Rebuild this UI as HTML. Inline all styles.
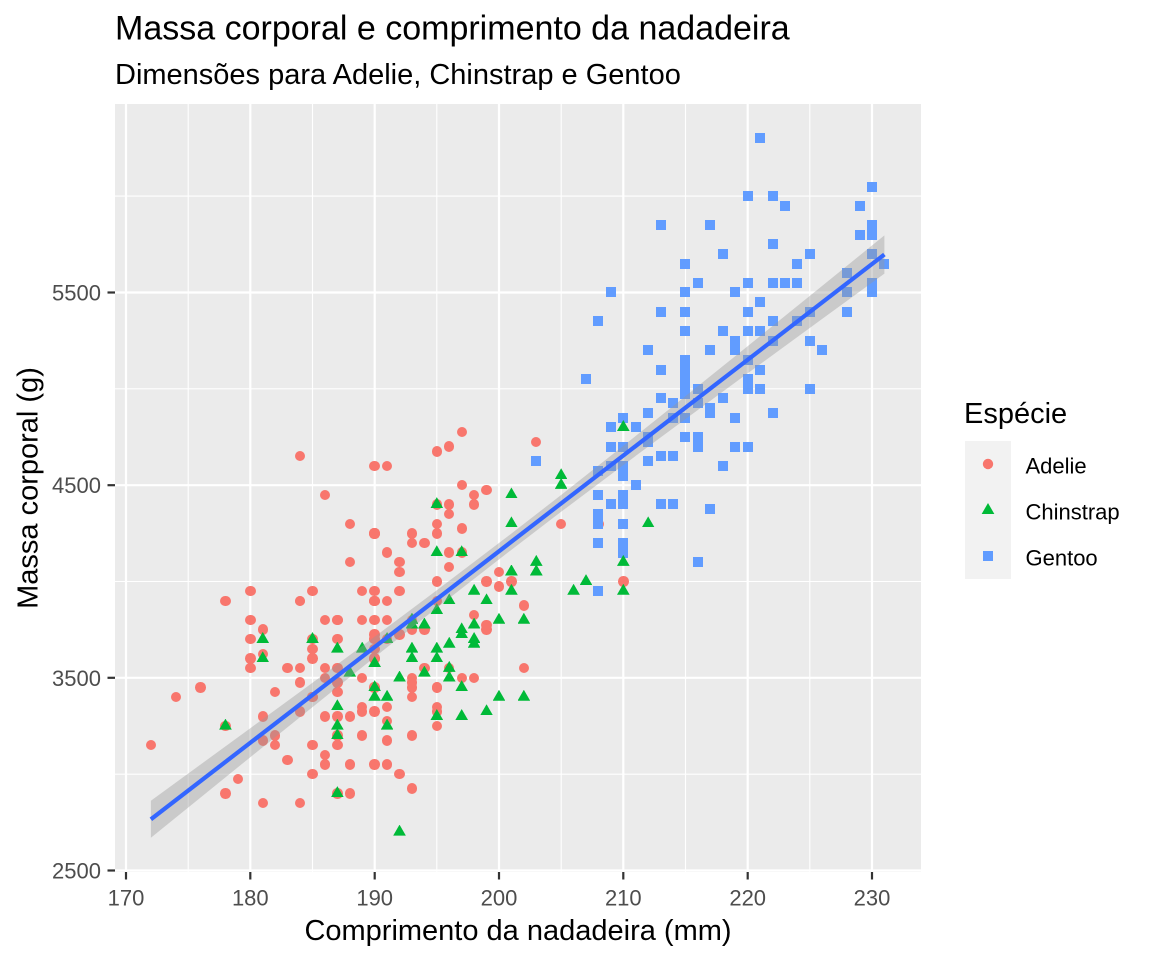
<!DOCTYPE html>
<html><head><meta charset="utf-8"><style>
html,body{margin:0;padding:0;background:#fff;}
body{width:1152px;height:960px;position:relative;overflow:hidden;font-family:"Liberation Sans",Arial,sans-serif;}
svg{position:absolute;left:0;top:0;}
.p{position:absolute;display:block;left:calc(126px + (var(--f) - 170) * 12.433px);top:calc(870.5px - (var(--m) - 2500) * 0.19267px);}
.a{width:10.4px;height:10.4px;margin:-5.2px 0 0 -5.2px;border-radius:50%;background:#F8766D;}
.g{width:10px;height:10px;margin:-5px 0 0 -5px;background:#619CFF;}
.c{width:12.7px;height:11px;margin:-7.33px 0 0 -6.35px;background:#00BA38;clip-path:polygon(50% 0,100% 100%,0 100%);}
</style></head><body>
<svg width="1152" height="960" xmlns="http://www.w3.org/2000/svg" font-family="Liberation Sans, Arial, sans-serif">
<rect x="115" y="104" width="806" height="768" fill="#EBEBEB"/>
<g stroke="#fff" stroke-width="1.1">
<line x1="188.2" y1="104" x2="188.2" y2="872"/><line x1="312.5" y1="104" x2="312.5" y2="872"/><line x1="436.8" y1="104" x2="436.8" y2="872"/><line x1="561.2" y1="104" x2="561.2" y2="872"/><line x1="685.5" y1="104" x2="685.5" y2="872"/><line x1="809.8" y1="104" x2="809.8" y2="872"/>
<line x1="115" y1="774.2" x2="921" y2="774.2"/><line x1="115" y1="581.5" x2="921" y2="581.5"/><line x1="115" y1="388.8" x2="921" y2="388.8"/><line x1="115" y1="196.1" x2="921" y2="196.1"/>
</g>
<g stroke="#fff" stroke-width="2.2">
<line x1="126" y1="104" x2="126" y2="872"/><line x1="250.3" y1="104" x2="250.3" y2="872"/><line x1="374.7" y1="104" x2="374.7" y2="872"/><line x1="499" y1="104" x2="499" y2="872"/><line x1="623.3" y1="104" x2="623.3" y2="872"/><line x1="747.7" y1="104" x2="747.7" y2="872"/><line x1="872" y1="104" x2="872" y2="872"/>
<line x1="115" y1="870.5" x2="921" y2="870.5"/><line x1="115" y1="677.8" x2="921" y2="677.8"/><line x1="115" y1="485.2" x2="921" y2="485.2"/><line x1="115" y1="292.5" x2="921" y2="292.5"/>
</g>
<g stroke="#333" stroke-width="2.2">
<line x1="107.5" y1="870.5" x2="115" y2="870.5"/><line x1="107.5" y1="677.8" x2="115" y2="677.8"/><line x1="107.5" y1="485.2" x2="115" y2="485.2"/><line x1="107.5" y1="292.5" x2="115" y2="292.5"/>
<line x1="126" y1="872" x2="126" y2="879.5"/><line x1="250.3" y1="872" x2="250.3" y2="879.5"/><line x1="374.7" y1="872" x2="374.7" y2="879.5"/><line x1="499" y1="872" x2="499" y2="879.5"/><line x1="623.3" y1="872" x2="623.3" y2="879.5"/><line x1="747.7" y1="872" x2="747.7" y2="879.5"/><line x1="872" y1="872" x2="872" y2="879.5"/>
</g>
<g font-size="22" fill="#4D4D4D" text-anchor="end">
<text x="101" y="878.5">2500</text><text x="101" y="685.8">3500</text><text x="101" y="493.2">4500</text><text x="101" y="300.5">5500</text>
</g>
<g font-size="22" fill="#4D4D4D" text-anchor="middle">
<text x="126" y="905.5">170</text><text x="250.3" y="905.5">180</text><text x="374.7" y="905.5">190</text><text x="499" y="905.5">200</text><text x="623.3" y="905.5">210</text><text x="747.7" y="905.5">220</text><text x="872" y="905.5">230</text>
</g>
<text x="115" y="39.5" font-size="34" fill="#000">Massa corporal e comprimento da nadadeira</text>
<text x="115" y="84" font-size="29" fill="#000">Dimensões para Adelie, Chinstrap e Gentoo</text>
<text x="518" y="940" font-size="29" fill="#000" text-anchor="middle">Comprimento da nadadeira (mm)</text>
<text transform="translate(37.5,488) rotate(-90)" font-size="29" fill="#000" text-anchor="middle">Massa corporal (g)</text>
<text x="964" y="423" font-size="29" fill="#000">Espécie</text>
<rect x="965" y="441" width="46" height="138" fill="#F2F2F2"/>
<circle cx="988" cy="464" r="5.2" fill="#F8766D"/>
<polygon points="988,503 994.35,514 981.65,514" fill="#00BA38"/>
<rect x="983" y="551" width="10" height="10" fill="#619CFF"/>
<g font-size="22" fill="#000">
<text x="1025.5" y="473.5">Adelie</text><text x="1025.5" y="519.5">Chinstrap</text><text x="1025.5" y="565.5">Gentoo</text>
</g>
</svg>
<div>
<i class="p a" style="--f:181;--m:3750"></i><i class="p a" style="--f:186;--m:3800"></i><i class="p a" style="--f:195;--m:3250"></i><i class="p a" style="--f:193;--m:3450"></i><i class="p a" style="--f:190;--m:3650"></i><i class="p a" style="--f:181;--m:3625"></i><i class="p a" style="--f:195;--m:4675"></i><i class="p a" style="--f:193;--m:3475"></i><i class="p a" style="--f:190;--m:4250"></i><i class="p a" style="--f:186;--m:3300"></i><i class="p a" style="--f:180;--m:3700"></i><i class="p a" style="--f:182;--m:3200"></i><i class="p a" style="--f:191;--m:3800"></i><i class="p a" style="--f:198;--m:4400"></i><i class="p a" style="--f:185;--m:3700"></i><i class="p a" style="--f:195;--m:3450"></i><i class="p a" style="--f:197;--m:4500"></i><i class="p a" style="--f:184;--m:3325"></i><i class="p a" style="--f:194;--m:4200"></i>
<i class="p a" style="--f:174;--m:3400"></i><i class="p a" style="--f:180;--m:3600"></i><i class="p a" style="--f:189;--m:3800"></i><i class="p a" style="--f:185;--m:3950"></i><i class="p a" style="--f:180;--m:3800"></i><i class="p a" style="--f:187;--m:3800"></i><i class="p a" style="--f:183;--m:3550"></i><i class="p a" style="--f:187;--m:3200"></i><i class="p a" style="--f:172;--m:3150"></i><i class="p a" style="--f:180;--m:3950"></i>
<i class="p a" style="--f:178;--m:3250"></i><i class="p a" style="--f:178;--m:3900"></i><i class="p a" style="--f:188;--m:3300"></i><i class="p a" style="--f:184;--m:3900"></i><i class="p a" style="--f:195;--m:3325"></i><i class="p a" style="--f:196;--m:4150"></i><i class="p a" style="--f:190;--m:3950"></i><i class="p a" style="--f:180;--m:3550"></i><i class="p a" style="--f:181;--m:3300"></i><i class="p a" style="--f:184;--m:4650"></i><i class="p a" style="--f:182;--m:3150"></i><i class="p a" style="--f:195;--m:3900"></i><i class="p a" style="--f:186;--m:3100"></i><i class="p a" style="--f:196;--m:4400"></i><i class="p a" style="--f:185;--m:3000"></i><i class="p a" style="--f:190;--m:4600"></i><i class="p a" style="--f:182;--m:3425"></i><i class="p a" style="--f:179;--m:2975"></i><i class="p a" style="--f:190;--m:3450"></i><i class="p a" style="--f:191;--m:4150"></i>
<i class="p a" style="--f:186;--m:3500"></i><i class="p a" style="--f:188;--m:4300"></i><i class="p a" style="--f:190;--m:3450"></i><i class="p a" style="--f:200;--m:4050"></i><i class="p a" style="--f:187;--m:2900"></i><i class="p a" style="--f:191;--m:3700"></i><i class="p a" style="--f:186;--m:3550"></i><i class="p a" style="--f:193;--m:3800"></i><i class="p a" style="--f:181;--m:2850"></i><i class="p a" style="--f:194;--m:3750"></i><i class="p a" style="--f:185;--m:3150"></i><i class="p a" style="--f:195;--m:4400"></i><i class="p a" style="--f:185;--m:3600"></i><i class="p a" style="--f:192;--m:4050"></i><i class="p a" style="--f:184;--m:2850"></i><i class="p a" style="--f:192;--m:3950"></i><i class="p a" style="--f:195;--m:3350"></i><i class="p a" style="--f:188;--m:4100"></i>
<i class="p a" style="--f:190;--m:3050"></i><i class="p a" style="--f:198;--m:4450"></i><i class="p a" style="--f:190;--m:3600"></i><i class="p a" style="--f:190;--m:3900"></i><i class="p a" style="--f:196;--m:3550"></i><i class="p a" style="--f:197;--m:4150"></i><i class="p a" style="--f:190;--m:3700"></i><i class="p a" style="--f:195;--m:4250"></i><i class="p a" style="--f:191;--m:3700"></i><i class="p a" style="--f:184;--m:3900"></i><i class="p a" style="--f:187;--m:3550"></i><i class="p a" style="--f:195;--m:4000"></i><i class="p a" style="--f:189;--m:3200"></i><i class="p a" style="--f:196;--m:4700"></i><i class="p a" style="--f:187;--m:3800"></i><i class="p a" style="--f:193;--m:4200"></i>
<i class="p a" style="--f:191;--m:3350"></i><i class="p a" style="--f:194;--m:3550"></i><i class="p a" style="--f:190;--m:3800"></i><i class="p a" style="--f:189;--m:3500"></i><i class="p a" style="--f:189;--m:3950"></i><i class="p a" style="--f:190;--m:3600"></i><i class="p a" style="--f:202;--m:3550"></i><i class="p a" style="--f:205;--m:4300"></i><i class="p a" style="--f:185;--m:3400"></i><i class="p a" style="--f:186;--m:4450"></i><i class="p a" style="--f:187;--m:3300"></i><i class="p a" style="--f:208;--m:4300"></i><i class="p a" style="--f:190;--m:3700"></i><i class="p a" style="--f:196;--m:4350"></i><i class="p a" style="--f:178;--m:2900"></i><i class="p a" style="--f:192;--m:4100"></i>
<i class="p a" style="--f:192;--m:3725"></i><i class="p a" style="--f:203;--m:4725"></i><i class="p a" style="--f:183;--m:3075"></i><i class="p a" style="--f:190;--m:4250"></i><i class="p a" style="--f:193;--m:2925"></i><i class="p a" style="--f:184;--m:3550"></i><i class="p a" style="--f:199;--m:3750"></i><i class="p a" style="--f:190;--m:3900"></i><i class="p a" style="--f:181;--m:3175"></i><i class="p a" style="--f:197;--m:4775"></i><i class="p a" style="--f:198;--m:3825"></i><i class="p a" style="--f:191;--m:4600"></i><i class="p a" style="--f:193;--m:3200"></i><i class="p a" style="--f:197;--m:4275"></i><i class="p a" style="--f:191;--m:3900"></i><i class="p a" style="--f:196;--m:4075"></i>
<i class="p a" style="--f:188;--m:2900"></i><i class="p a" style="--f:199;--m:3775"></i><i class="p a" style="--f:189;--m:3350"></i><i class="p a" style="--f:189;--m:3325"></i><i class="p a" style="--f:187;--m:3150"></i><i class="p a" style="--f:198;--m:3500"></i><i class="p a" style="--f:176;--m:3450"></i><i class="p a" style="--f:202;--m:3875"></i><i class="p a" style="--f:186;--m:3050"></i><i class="p a" style="--f:199;--m:4000"></i><i class="p a" style="--f:191;--m:3275"></i><i class="p a" style="--f:195;--m:4300"></i><i class="p a" style="--f:191;--m:3050"></i><i class="p a" style="--f:210;--m:4000"></i><i class="p a" style="--f:190;--m:3325"></i><i class="p a" style="--f:197;--m:3500"></i>
<i class="p a" style="--f:193;--m:3500"></i><i class="p a" style="--f:199;--m:4475"></i><i class="p a" style="--f:187;--m:3425"></i><i class="p a" style="--f:190;--m:3900"></i><i class="p a" style="--f:191;--m:3175"></i><i class="p a" style="--f:200;--m:3975"></i><i class="p a" style="--f:185;--m:3400"></i><i class="p a" style="--f:193;--m:4250"></i><i class="p a" style="--f:193;--m:3400"></i><i class="p a" style="--f:187;--m:3475"></i><i class="p a" style="--f:188;--m:3050"></i><i class="p a" style="--f:190;--m:3725"></i><i class="p a" style="--f:192;--m:3000"></i><i class="p a" style="--f:185;--m:3650"></i><i class="p a" style="--f:190;--m:4250"></i><i class="p a" style="--f:184;--m:3475"></i><i class="p a" style="--f:195;--m:3450"></i><i class="p a" style="--f:193;--m:3750"></i><i class="p a" style="--f:187;--m:3700"></i><i class="p a" style="--f:201;--m:4000"></i>

<i class="p g" style="--f:211;--m:4500"></i><i class="p g" style="--f:230;--m:5700"></i><i class="p g" style="--f:210;--m:4450"></i><i class="p g" style="--f:218;--m:5700"></i><i class="p g" style="--f:215;--m:5400"></i><i class="p g" style="--f:210;--m:4550"></i><i class="p g" style="--f:211;--m:4800"></i><i class="p g" style="--f:219;--m:5200"></i><i class="p g" style="--f:209;--m:4400"></i><i class="p g" style="--f:215;--m:5150"></i><i class="p g" style="--f:214;--m:4650"></i><i class="p g" style="--f:216;--m:5550"></i><i class="p g" style="--f:214;--m:4650"></i><i class="p g" style="--f:213;--m:5850"></i><i class="p g" style="--f:210;--m:4200"></i><i class="p g" style="--f:217;--m:5850"></i><i class="p g" style="--f:210;--m:4150"></i><i class="p g" style="--f:221;--m:6300"></i><i class="p g" style="--f:209;--m:4800"></i><i class="p g" style="--f:222;--m:5350"></i>
<i class="p g" style="--f:218;--m:5700"></i><i class="p g" style="--f:215;--m:5000"></i><i class="p g" style="--f:213;--m:4400"></i><i class="p g" style="--f:215;--m:5050"></i><i class="p g" style="--f:215;--m:5000"></i><i class="p g" style="--f:215;--m:5100"></i><i class="p g" style="--f:216;--m:4100"></i><i class="p g" style="--f:215;--m:5650"></i><i class="p g" style="--f:210;--m:4600"></i><i class="p g" style="--f:220;--m:5550"></i><i class="p g" style="--f:222;--m:5250"></i><i class="p g" style="--f:209;--m:4700"></i><i class="p g" style="--f:207;--m:5050"></i><i class="p g" style="--f:230;--m:6050"></i><i class="p g" style="--f:220;--m:5150"></i><i class="p g" style="--f:220;--m:5400"></i><i class="p g" style="--f:213;--m:4950"></i><i class="p g" style="--f:219;--m:5250"></i><i class="p g" style="--f:208;--m:4350"></i><i class="p g" style="--f:208;--m:5350"></i>
<i class="p g" style="--f:208;--m:3950"></i><i class="p g" style="--f:225;--m:5700"></i><i class="p g" style="--f:210;--m:4300"></i><i class="p g" style="--f:216;--m:4750"></i><i class="p g" style="--f:222;--m:5550"></i><i class="p g" style="--f:217;--m:4900"></i><i class="p g" style="--f:210;--m:4200"></i><i class="p g" style="--f:225;--m:5400"></i><i class="p g" style="--f:213;--m:5100"></i><i class="p g" style="--f:215;--m:5300"></i><i class="p g" style="--f:210;--m:4850"></i><i class="p g" style="--f:220;--m:5300"></i><i class="p g" style="--f:210;--m:4400"></i><i class="p g" style="--f:225;--m:5000"></i><i class="p g" style="--f:217;--m:4900"></i><i class="p g" style="--f:220;--m:5050"></i><i class="p g" style="--f:208;--m:4300"></i><i class="p g" style="--f:220;--m:5000"></i><i class="p g" style="--f:208;--m:4450"></i><i class="p g" style="--f:224;--m:5550"></i>
<i class="p g" style="--f:208;--m:4200"></i><i class="p g" style="--f:221;--m:5300"></i><i class="p g" style="--f:214;--m:4400"></i><i class="p g" style="--f:231;--m:5650"></i><i class="p g" style="--f:219;--m:4700"></i><i class="p g" style="--f:230;--m:5700"></i><i class="p g" style="--f:214;--m:4650"></i><i class="p g" style="--f:229;--m:5800"></i><i class="p g" style="--f:220;--m:4700"></i><i class="p g" style="--f:223;--m:5550"></i><i class="p g" style="--f:216;--m:4750"></i><i class="p g" style="--f:221;--m:5000"></i><i class="p g" style="--f:221;--m:5100"></i><i class="p g" style="--f:217;--m:5200"></i><i class="p g" style="--f:216;--m:4700"></i><i class="p g" style="--f:230;--m:5800"></i><i class="p g" style="--f:209;--m:4600"></i><i class="p g" style="--f:220;--m:6000"></i><i class="p g" style="--f:215;--m:4750"></i><i class="p g" style="--f:223;--m:5950"></i>
<i class="p g" style="--f:212;--m:4625"></i><i class="p g" style="--f:221;--m:5450"></i><i class="p g" style="--f:212;--m:4725"></i><i class="p g" style="--f:224;--m:5350"></i><i class="p g" style="--f:212;--m:4750"></i><i class="p g" style="--f:228;--m:5600"></i><i class="p g" style="--f:218;--m:4600"></i><i class="p g" style="--f:218;--m:5300"></i><i class="p g" style="--f:212;--m:4875"></i><i class="p g" style="--f:230;--m:5550"></i><i class="p g" style="--f:218;--m:4950"></i><i class="p g" style="--f:228;--m:5400"></i><i class="p g" style="--f:212;--m:4750"></i><i class="p g" style="--f:224;--m:5650"></i><i class="p g" style="--f:214;--m:4850"></i><i class="p g" style="--f:226;--m:5200"></i><i class="p g" style="--f:216;--m:4925"></i><i class="p g" style="--f:222;--m:4875"></i><i class="p g" style="--f:203;--m:4625"></i><i class="p g" style="--f:225;--m:5250"></i>
<i class="p g" style="--f:219;--m:4850"></i><i class="p g" style="--f:228;--m:5600"></i><i class="p g" style="--f:215;--m:4975"></i><i class="p g" style="--f:228;--m:5500"></i><i class="p g" style="--f:216;--m:4725"></i><i class="p g" style="--f:215;--m:5500"></i><i class="p g" style="--f:210;--m:4700"></i><i class="p g" style="--f:219;--m:5500"></i><i class="p g" style="--f:208;--m:4575"></i><i class="p g" style="--f:209;--m:5500"></i><i class="p g" style="--f:216;--m:5000"></i><i class="p g" style="--f:229;--m:5950"></i><i class="p g" style="--f:213;--m:4650"></i><i class="p g" style="--f:230;--m:5500"></i><i class="p g" style="--f:217;--m:4375"></i><i class="p g" style="--f:230;--m:5850"></i><i class="p g" style="--f:217;--m:4875"></i><i class="p g" style="--f:222;--m:6000"></i><i class="p g" style="--f:214;--m:4925"></i><i class="p g" style="--f:215;--m:4850"></i>
<i class="p g" style="--f:222;--m:5750"></i><i class="p g" style="--f:212;--m:5200"></i><i class="p g" style="--f:213;--m:5400"></i>

<i class="p c" style="--f:192;--m:3500"></i><i class="p c" style="--f:196;--m:3900"></i><i class="p c" style="--f:193;--m:3650"></i><i class="p c" style="--f:188;--m:3525"></i><i class="p c" style="--f:197;--m:3725"></i><i class="p c" style="--f:198;--m:3950"></i><i class="p c" style="--f:178;--m:3250"></i><i class="p c" style="--f:197;--m:3750"></i><i class="p c" style="--f:195;--m:4150"></i><i class="p c" style="--f:198;--m:3700"></i><i class="p c" style="--f:193;--m:3800"></i><i class="p c" style="--f:194;--m:3775"></i><i class="p c" style="--f:185;--m:3700"></i><i class="p c" style="--f:201;--m:4050"></i><i class="p c" style="--f:190;--m:3575"></i><i class="p c" style="--f:201;--m:4050"></i><i class="p c" style="--f:197;--m:3300"></i><i class="p c" style="--f:181;--m:3700"></i><i class="p c" style="--f:190;--m:3450"></i><i class="p c" style="--f:195;--m:4400"></i>
<i class="p c" style="--f:181;--m:3600"></i><i class="p c" style="--f:191;--m:3400"></i><i class="p c" style="--f:187;--m:2900"></i><i class="p c" style="--f:193;--m:3800"></i><i class="p c" style="--f:195;--m:3300"></i><i class="p c" style="--f:197;--m:4150"></i><i class="p c" style="--f:200;--m:3400"></i><i class="p c" style="--f:200;--m:3800"></i><i class="p c" style="--f:191;--m:3700"></i><i class="p c" style="--f:205;--m:4550"></i><i class="p c" style="--f:187;--m:3200"></i><i class="p c" style="--f:201;--m:4300"></i><i class="p c" style="--f:187;--m:3350"></i><i class="p c" style="--f:203;--m:4100"></i><i class="p c" style="--f:195;--m:3600"></i><i class="p c" style="--f:199;--m:3900"></i><i class="p c" style="--f:195;--m:3850"></i><i class="p c" style="--f:210;--m:4800"></i><i class="p c" style="--f:192;--m:2700"></i><i class="p c" style="--f:205;--m:4500"></i>
<i class="p c" style="--f:210;--m:3950"></i><i class="p c" style="--f:187;--m:3650"></i><i class="p c" style="--f:196;--m:3550"></i><i class="p c" style="--f:196;--m:3500"></i><i class="p c" style="--f:196;--m:3675"></i><i class="p c" style="--f:201;--m:4450"></i><i class="p c" style="--f:190;--m:3400"></i><i class="p c" style="--f:212;--m:4300"></i><i class="p c" style="--f:187;--m:3250"></i><i class="p c" style="--f:198;--m:3675"></i><i class="p c" style="--f:199;--m:3325"></i><i class="p c" style="--f:201;--m:3950"></i><i class="p c" style="--f:193;--m:3600"></i><i class="p c" style="--f:203;--m:4050"></i><i class="p c" style="--f:187;--m:3350"></i><i class="p c" style="--f:197;--m:3450"></i><i class="p c" style="--f:191;--m:3250"></i><i class="p c" style="--f:203;--m:4050"></i><i class="p c" style="--f:202;--m:3800"></i><i class="p c" style="--f:194;--m:3525"></i>
<i class="p c" style="--f:206;--m:3950"></i><i class="p c" style="--f:189;--m:3650"></i><i class="p c" style="--f:195;--m:3650"></i><i class="p c" style="--f:207;--m:4000"></i><i class="p c" style="--f:202;--m:3400"></i><i class="p c" style="--f:193;--m:3775"></i><i class="p c" style="--f:210;--m:4100"></i><i class="p c" style="--f:198;--m:3775"></i>
</div>
<svg width="1152" height="960" xmlns="http://www.w3.org/2000/svg" style="pointer-events:none">
<polygon fill="#999999" fill-opacity="0.4" points="150.9,800.8 200.6,764.5 250.3,728.2 312.5,682.7 374.6,636.8 436.8,590.3 510.2,534.5 561.1,495.0 623.3,445.9 685.4,396.2 747.6,346.2 822.2,285.9 884.4,235.4 884.4,273.6 822.2,318.9 747.6,373.4 685.4,419.1 623.3,465.1 561.1,511.8 510.2,550.7 436.8,607.9 374.6,657.2 312.5,707.1 250.3,757.2 200.6,797.5 150.9,837.8"/>
<line x1="150.9" y1="819.3" x2="884.4" y2="254.5" stroke="#3366FF" stroke-width="4.2"/>
</svg>
</body></html>
